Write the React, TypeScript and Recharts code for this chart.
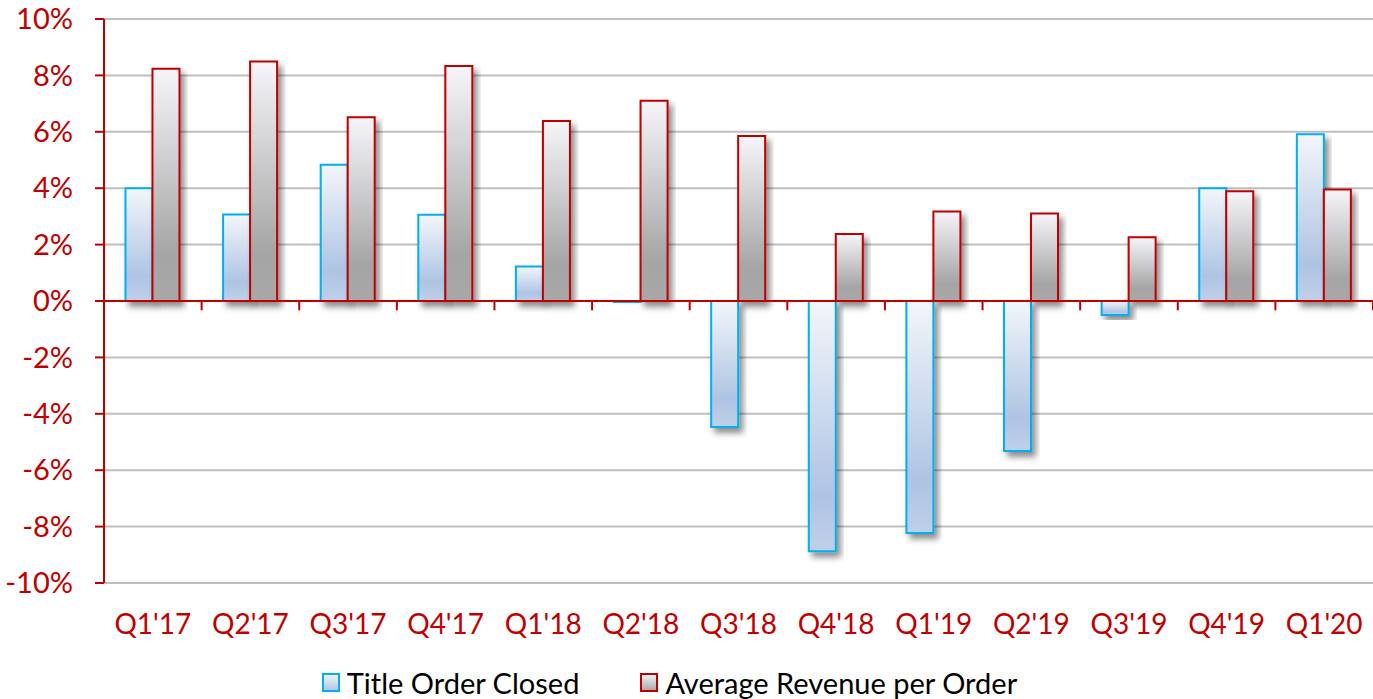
import { BarChart, Bar, XAxis, YAxis, CartesianGrid, Legend, ReferenceLine, Rectangle } from "recharts";

const quarters = ["Q1'17", "Q2'17", "Q3'17", "Q4'17", "Q1'18", "Q2'18", "Q3'18", "Q4'18", "Q1'19", "Q2'19", "Q3'19", "Q4'19", "Q1'20"];
const titleOrderClosed = [4.0, 3.07, 4.83, 3.06, 1.22, -0.05, -4.47, -8.87, -8.23, -5.32, -0.5, 4.0, 5.91];
const avgRevenuePerOrder = [8.24, 8.49, 6.52, 8.33, 6.38, 7.1, 5.85, 2.38, 3.17, 3.1, 2.26, 3.89, 3.95];
const yTicks = [-10, -8, -6, -4, -2, 0, 2, 4, 6, 8, 10];

const chartData = quarters.map((q, i) => ({ q, title: titleOrderClosed[i], revenue: avgRevenuePerOrder[i] }));

const RED = "#C00000";
const BLUE = "#00B0F0";
const FONT = "Lato, 'Open Sans', sans-serif";

const ShadowBar = (props: any) => <Rectangle {...props} filter="url(#barShadow)" />;

const LegendIcon = ({ kind }: { kind: "blue" | "gray" }) => (
  <svg width={18} height={19} style={{ marginRight: 7 }}>
    <defs>
      <linearGradient id={"lg-" + kind} x1="0" y1="0" x2="0" y2="1">
        <stop offset="0%" stopColor={kind === "blue" ? "#F3F6FB" : "#F6F6FA"} />
        <stop offset="100%" stopColor={kind === "blue" ? "#AEC4E3" : "#A5A5A5"} />
      </linearGradient>
    </defs>
    <rect x={1} y={1} width={16} height={17} fill={`url(#lg-${kind})`} stroke={kind === "blue" ? BLUE : RED} strokeWidth={2} />
  </svg>
);

const renderLegend = () => (
  <div style={{ display: "flex", justifyContent: "center", alignItems: "center", height: 46, paddingTop: 12, boxSizing: "border-box", fontFamily: FONT, fontSize: 29, color: "#000", paddingRight: 34 }}>
    <div style={{ display: "flex", alignItems: "center", marginRight: 61 }}>
      <LegendIcon kind="blue" />
      <span>Title Order Closed</span>
    </div>
    <div style={{ display: "flex", alignItems: "center" }}>
      <LegendIcon kind="gray" />
      <span>Average Revenue per Order</span>
    </div>
  </div>
);

export default function App() {
  return (
    <div style={{ position: "absolute", left: 0, top: 0, background: "#fff" }}>
      <BarChart
        width={1373}
        height={699}
        data={chartData}
        margin={{ top: 19, right: 0, left: 0, bottom: 0 }}
        barGap={0}
        barCategoryGap="22%"
      >
        <defs>
          <linearGradient id="blueFill" x1="0" y1="0" x2="0" y2="1">
            <stop offset="0%" stopColor="#F3F6FB" />
            <stop offset="78%" stopColor="#AEC4E3" />
            <stop offset="100%" stopColor="#BFD0E9" />
          </linearGradient>
          <linearGradient id="grayFill" x1="0" y1="0" x2="0" y2="1">
            <stop offset="0%" stopColor="#F6F6FA" />
            <stop offset="80%" stopColor="#A5A5A5" />
            <stop offset="100%" stopColor="#A8A8A8" />
          </linearGradient>
          <filter id="barShadow" x="-30%" y="-30%" width="160%" height="160%">
            <feDropShadow dx={4} dy={5} stdDeviation={3} floodColor="#000" floodOpacity={0.45} />
          </filter>
        </defs>
        <CartesianGrid vertical={false} stroke="#BFBFBF" strokeWidth={2} />
        <XAxis
          dataKey="q"
          axisLine={false}
          tickLine={false}
          height={70}
          tickMargin={25}
          interval={0}
          tick={{ fill: RED, fontSize: 28, fontFamily: FONT }}
        />
        <YAxis
          domain={[-10, 10]}
          ticks={yTicks}
          width={104}
          tickFormatter={(v) => `${v}%`}
          axisLine={{ stroke: RED, strokeWidth: 2 }}
          tickLine={{ stroke: RED, strokeWidth: 2 }}
          tickSize={9}
          tickMargin={22}
          tick={{ fill: RED, fontSize: 29, fontFamily: FONT }}
          allowDataOverflow
        />
        <Legend verticalAlign="bottom" height={46} content={renderLegend} />
        <Bar dataKey="title" name="Title Order Closed" fill="url(#blueFill)" stroke={BLUE} strokeWidth={2} shape={ShadowBar} isAnimationActive={false} />
        <Bar dataKey="revenue" name="Average Revenue per Order" fill="url(#grayFill)" stroke={RED} strokeWidth={2} shape={ShadowBar} isAnimationActive={false} />
        <ReferenceLine y={0} stroke={RED} strokeWidth={2} />
        {quarters.map((q) => (
          <ReferenceLine
            key={q}
            position="start"
            segment={[{ x: q, y: 0 }, { x: q, y: -0.33 }]}
            stroke={RED}
            strokeWidth={2}
          />
        ))}
        <ReferenceLine
          position="end"
          segment={[{ x: quarters[quarters.length - 1], y: 0 }, { x: quarters[quarters.length - 1], y: -0.33 }]}
          stroke={RED}
          strokeWidth={2}
        />
      </BarChart>
    </div>
  );
}
